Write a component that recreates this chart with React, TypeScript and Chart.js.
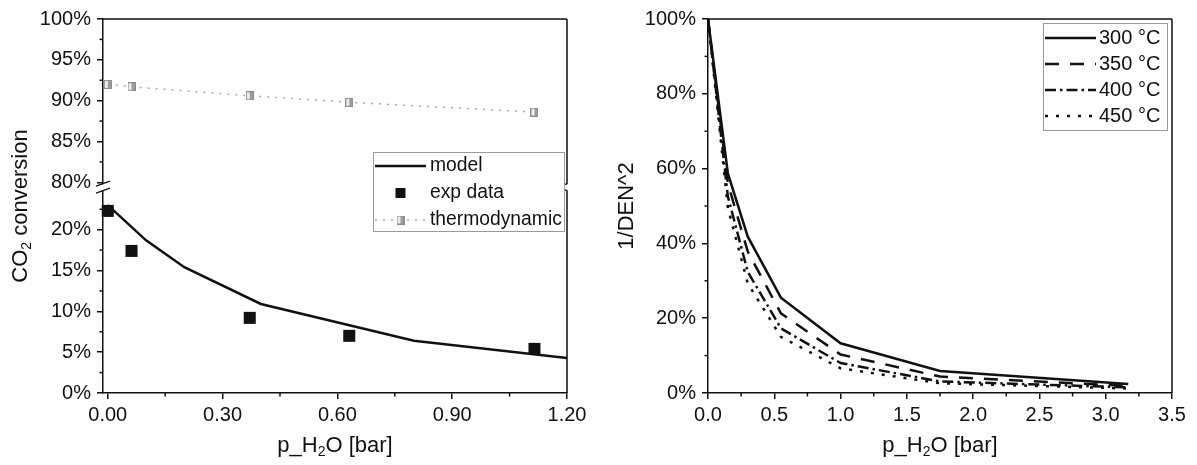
import React, { useEffect, useRef } from 'react';
import { Chart, registerables } from 'chart.js';
Chart.register(...registerables);

const FONT = "'Liberation Sans', Arial, Helvetica, sans-serif";
const INK = '#111';
const GRAY = '#a8a8a8';

// ---------- left panel ----------
const leftXTicks = [0, 0.3, 0.6, 0.9, 1.2];
const leftXMinor = [0.15, 0.45, 0.75, 1.05];
const leftYLowTicks = [0, 5, 10, 15, 20];
const leftYLowMinor = [2.5, 7.5, 12.5, 17.5, 22.5];
const leftYHighTicks = [80, 85, 90, 95, 100];
const leftYHighMinor = [82.5, 87.5, 92.5, 97.5];

const modelP = [0, 0.1, 0.2, 0.4, 0.8, 1.2];
const modelConv = [23.0, 18.7, 15.4, 10.9, 6.4, 4.3];
const expP = [0.0, 0.062, 0.371, 0.631, 1.115];
const expConv = [22.3, 17.4, 9.2, 7.0, 5.4];
const thermoP = [0.0, 0.062, 0.371, 0.631, 1.115];
const thermoConv = [92.0, 91.7, 90.6, 89.8, 88.6];
const leftLabels = ['model', 'exp data', 'thermodynamic'];

// ---------- right panel ----------
const rightXTicks = [0, 0.5, 1, 1.5, 2, 2.5, 3, 3.5];
const rightXMinor = [0.25, 0.75, 1.25, 1.75, 2.25, 2.75, 3.25];
const rightYTicks = [0, 20, 40, 60, 80, 100];
const rightYMinor = [10, 30, 50, 70, 90];
const tempLabels = ['300 °C', '350 °C', '400 °C', '450 °C'];
const pSweep = [0, 0.15, 0.3, 0.55, 1.0, 1.75, 3.17];
const den300 = [100, 58.7, 41.8, 25.5, 13.3, 5.9, 2.4];
const den350 = [100, 56.0, 37.8, 21.3, 10.3, 4.4, 1.9];
const den400 = [100, 52.5, 32.4, 17.3, 8.0, 3.1, 1.5];
const den450 = [100, 49.5, 29.3, 15.0, 6.6, 2.6, 1.2];

// axis titles: [text, isSubscript]
const pTitle: [string, boolean][] = [['p_H', false], ['2', true], ['O [bar]', false]];
const convTitle: [string, boolean][] = [['CO', false], ['2', true], [' conversion', false]];
const denTitle: [string, boolean][] = [['1/DEN^2', false]];

const tickFont = { family: FONT, size: 20 };
const TITLE_SIZE = 22;

function pts(xs: number[], ys: number[]) {
  return xs.map((x, i) => ({ x, y: ys[i] }));
}

function axis(tickVals: number[], fmt: (v: number) => string, extra: any, pad: number) {
  return {
    type: 'linear',
    afterBuildTicks: (s: any) => {
      s.ticks = tickVals.map((v) => ({ value: v }));
    },
    ticks: {
      callback: (v: any) => fmt(Number(v)),
      font: tickFont,
      color: INK,
      padding: pad,
      autoSkip: false,
      maxRotation: 0,
    },
    grid: { drawOnChartArea: false, drawTicks: true, tickLength: 6, color: INK, lineWidth: 1.5 },
    border: { display: true, color: INK, width: 1.5 },
    ...extra,
  };
}

function makeThermoMarker() {
  const c = document.createElement('canvas');
  c.width = 8;
  c.height = 9;
  const g = c.getContext('2d')!;
  g.fillStyle = '#ececec';
  g.fillRect(0, 0, 8, 9);
  g.fillStyle = '#9c9c9c';
  g.fillRect(4, 0, 4, 9);
  g.strokeStyle = '#8c8c8c';
  g.lineWidth = 1;
  g.strokeRect(0.5, 0.5, 7, 8);
  return c;
}

// draws text centred at (0,0) in current transform, with subscript parts
function drawRich(ctx: CanvasRenderingContext2D, parts: [string, boolean][], size: number) {
  const subSize = Math.round(size * 0.65);
  const widths = parts.map(([t, sub]) => {
    ctx.font = `${sub ? subSize : size}px ${FONT}`;
    return ctx.measureText(t).width;
  });
  const total = widths.reduce((a, b) => a + b, 0);
  let x = -total / 2;
  ctx.textAlign = 'left';
  ctx.textBaseline = 'alphabetic';
  const base = size * 0.35;
  parts.forEach(([t, sub], i) => {
    ctx.font = `${sub ? subSize : size}px ${FONT}`;
    ctx.fillText(t, x, base + (sub ? size * 0.2 : 0));
    x += widths[i];
  });
}

function titlesPlugin(xParts: [string, boolean][], yParts: [string, boolean][], yTitleX: number) {
  return {
    id: 'axisTitles',
    afterDraw(chart: any) {
      const { ctx, chartArea: ca } = chart;
      ctx.save();
      ctx.fillStyle = INK;
      ctx.translate((ca.left + ca.right) / 2, 444);
      drawRich(ctx, xParts, TITLE_SIZE);
      ctx.restore();
      ctx.save();
      ctx.fillStyle = INK;
      ctx.translate(yTitleX, (ca.top + ca.bottom) / 2);
      ctx.rotate(-Math.PI / 2);
      drawRich(ctx, yParts, TITLE_SIZE);
      ctx.restore();
    },
  };
}

function minorTicks(spec: { id: string; values: number[] }[]) {
  return {
    id: 'minorTicks',
    afterDraw(chart: any) {
      const ctx = chart.ctx;
      ctx.save();
      ctx.strokeStyle = INK;
      ctx.lineWidth = 1.5;
      for (const s of spec) {
        const sc = chart.scales[s.id];
        for (const v of s.values) {
          const p = sc.getPixelForValue(v);
          ctx.beginPath();
          if (sc.isHorizontal()) {
            ctx.moveTo(p, sc.top);
            ctx.lineTo(p, sc.top + 3.5);
          } else {
            ctx.moveTo(sc.right, p);
            ctx.lineTo(sc.right - 3.5, p);
          }
          ctx.stroke();
        }
      }
      ctx.restore();
    },
  };
}

function frame(withBreak: boolean) {
  return {
    id: 'frame',
    afterDraw(chart: any) {
      const { ctx, chartArea: ca } = chart;
      ctx.save();
      ctx.strokeStyle = INK;
      ctx.lineWidth = 1.5;
      ctx.beginPath();
      ctx.moveTo(ca.left, ca.top);
      ctx.lineTo(ca.right, ca.top);
      if (withBreak) {
        const yb = chart.scales.y.top;
        ctx.moveTo(ca.right, ca.top);
        ctx.lineTo(ca.right, yb - 3);
        ctx.moveTo(ca.right, yb + 3);
        ctx.lineTo(ca.right, ca.bottom);
        ctx.stroke();
        ctx.lineWidth = 1.2;
        ctx.beginPath();
        ctx.moveTo(ca.right - 2.5, yb - 3);
        ctx.lineTo(ca.right, yb - 3);
        ctx.moveTo(ca.right - 2.5, yb + 3);
        ctx.lineTo(ca.right, yb + 3);
        ctx.stroke();
        ctx.fillStyle = '#fff';
        ctx.fillRect(ca.left - 2, yb - 3, 4, 6);
        ctx.strokeStyle = INK;
        ctx.lineWidth = 1.3;
        for (const d of [-3.5, 3.5]) {
          ctx.beginPath();
          ctx.moveTo(ca.left - 7, yb + d + 2.5);
          ctx.lineTo(ca.left + 7, yb + d - 2.5);
          ctx.stroke();
        }
      } else {
        ctx.moveTo(ca.right, ca.top);
        ctx.lineTo(ca.right, ca.bottom);
        ctx.stroke();
      }
      ctx.restore();
    },
  };
}

function leftLegendPlugin(marker: HTMLCanvasElement) {
  return {
    id: 'leftLegend',
    afterDraw(chart: any) {
      const { ctx, chartArea: ca } = chart;
      const w = 191;
      const h = 79;
      const x0 = ca.right - 3 - w;
      const y0 = ca.top + 133;
      ctx.save();
      ctx.fillStyle = '#fff';
      ctx.fillRect(x0, y0, w, h);
      ctx.strokeStyle = '#9a9a9a';
      ctx.lineWidth = 1;
      ctx.strokeRect(x0 + 0.5, y0 + 0.5, w, h);
      const sx0 = x0 + 2;
      const sx1 = x0 + 53;
      const cxm = (sx0 + sx1) / 2;
      const ds = chart.data.datasets;
      ds.forEach((d: any, i: number) => {
        const cy = y0 + 14 + i * 27;
        if (i === 0) {
          ctx.strokeStyle = d.borderColor;
          ctx.lineWidth = d.borderWidth;
          ctx.setLineDash([]);
          ctx.beginPath();
          ctx.moveTo(sx0, cy);
          ctx.lineTo(sx1, cy);
          ctx.stroke();
        } else if (i === 1) {
          ctx.fillStyle = d.backgroundColor;
          ctx.fillRect(cxm - 5, cy - 5, 10, 10);
        } else {
          ctx.strokeStyle = d.borderColor;
          ctx.lineWidth = d.borderWidth;
          ctx.setLineDash(d.borderDash);
          ctx.beginPath();
          ctx.moveTo(sx0, cy);
          ctx.lineTo(sx1, cy);
          ctx.stroke();
          ctx.setLineDash([]);
          ctx.drawImage(marker, cxm - marker.width / 2, cy - marker.height / 2);
        }
        ctx.fillStyle = INK;
        ctx.font = `19.3px ${FONT}`;
        ctx.textAlign = 'left';
        ctx.textBaseline = 'middle';
        ctx.fillText(d.label, x0 + 57, cy);
      });
      ctx.restore();
    },
  };
}

const rightLegendPlugin = {
  id: 'rightLegend',
  afterDraw(chart: any) {
    const { ctx, chartArea: ca } = chart;
    const w = 124;
    const h = 107;
    const x0 = ca.right - 5 - w;
    const y0 = ca.top + 4;
    ctx.save();
    ctx.fillStyle = '#fff';
    ctx.fillRect(x0, y0, w, h);
    ctx.strokeStyle = '#9a9a9a';
    ctx.lineWidth = 1;
    ctx.strokeRect(x0 + 0.5, y0 + 0.5, w, h);
    chart.data.datasets.forEach((d: any, i: number) => {
      const cy = y0 + 15 + i * 26;
      ctx.strokeStyle = d.borderColor;
      ctx.lineWidth = d.borderWidth;
      ctx.setLineDash(d.borderDash || []);
      ctx.beginPath();
      ctx.moveTo(x0 + 2, cy);
      ctx.lineTo(x0 + 53, cy);
      ctx.stroke();
      ctx.setLineDash([]);
      ctx.fillStyle = INK;
      ctx.font = `20px ${FONT}`;
      ctx.textAlign = 'left';
      ctx.textBaseline = 'middle';
      ctx.fillText(d.label, x0 + 56, cy);
    });
    ctx.restore();
  },
};

const pct = (v: number) => `${v}%`;

export default function App() {
  const leftRef = useRef<HTMLCanvasElement>(null);
  const rightRef = useRef<HTMLCanvasElement>(null);

  useEffect(() => {
    Chart.defaults.font.family = FONT;
    const marker = makeThermoMarker();

    const left = new Chart(leftRef.current as HTMLCanvasElement, {
      type: 'scatter',
      data: {
        datasets: [
          {
            label: leftLabels[0],
            data: pts(modelP, modelConv),
            showLine: true,
            borderColor: INK,
            borderWidth: 2.5,
            pointRadius: 0,
            yAxisID: 'y',
          },
          {
            label: leftLabels[1],
            data: pts(expP, expConv),
            showLine: false,
            pointStyle: 'rect',
            pointRadius: 8.5,
            backgroundColor: INK,
            borderColor: INK,
            borderWidth: 0,
            yAxisID: 'y',
            clip: false,
          },
          {
            label: leftLabels[2],
            data: pts(thermoP, thermoConv),
            showLine: true,
            borderColor: GRAY,
            borderWidth: 1.5,
            borderDash: [2, 6],
            pointStyle: marker,
            pointRadius: 4,
            yAxisID: 'yTop',
          },
        ],
      } as any,
      options: {
        responsive: false,
        maintainAspectRatio: false,
        animation: false,
        layout: { padding: { left: 0, top: 19, right: 33, bottom: 0 } },
        plugins: { legend: { display: false }, tooltip: { enabled: false } },
        scales: {
          x: axis(leftXTicks, (v) => v.toFixed(2), {
            min: -0.0125,
            max: 1.2,
            afterFit: (s: any) => {
              s.height = 72;
            },
          }, 4),
          y: axis(leftYLowTicks, pct, {
            position: 'left',
            stack: 'left',
            stackWeight: 25.2,
            min: 0,
            max: 25.2,
            afterFit: (s: any) => {
              s.width = 103;
            },
          }, 6),
          yTop: axis(leftYHighTicks, pct, {
            position: 'left',
            stack: 'left',
            stackWeight: 20.6,
            min: 79.4,
            max: 100,
            afterFit: (s: any) => {
              s.width = 103;
            },
          }, 6),
        } as any,
      },
      plugins: [
        minorTicks([
          { id: 'x', values: leftXMinor },
          { id: 'y', values: leftYLowMinor },
          { id: 'yTop', values: leftYHighMinor },
        ]),
        frame(true),
        titlesPlugin(pTitle, convTitle, 19),
        leftLegendPlugin(marker),
      ],
    } as any);

    const dashes = [[], [14, 11], [11, 4, 2.5, 4], [3, 8]];
    const series = [den300, den350, den400, den450];
    const right = new Chart(rightRef.current as HTMLCanvasElement, {
      type: 'scatter',
      data: {
        datasets: series.map((s, i) => ({
          label: tempLabels[i],
          data: pts(pSweep, s),
          showLine: true,
          borderColor: INK,
          borderWidth: 2.5,
          borderDash: dashes[i],
          pointRadius: 0,
        })),
      } as any,
      options: {
        responsive: false,
        maintainAspectRatio: false,
        animation: false,
        layout: { padding: { left: 0, top: 19, right: 25, bottom: 0 } },
        plugins: { legend: { display: false }, tooltip: { enabled: false } },
        scales: {
          x: axis(rightXTicks, (v) => v.toFixed(1), {
            min: 0,
            max: 3.5,
            afterFit: (s: any) => {
              s.height = 72;
            },
          }, 4),
          y: axis(rightYTicks, pct, {
            position: 'left',
            min: 0,
            max: 100,
            afterFit: (s: any) => {
              s.width = 108;
            },
          }, 6),
        } as any,
      },
      plugins: [
        minorTicks([
          { id: 'x', values: rightXMinor },
          { id: 'y', values: rightYMinor },
        ]),
        frame(false),
        titlesPlugin(pTitle, denTitle, 25.5),
        rightLegendPlugin,
      ],
    } as any);

    return () => {
      left.destroy();
      right.destroy();
    };
  }, []);

  return (
    <div style={{ position: 'absolute', left: 0, top: 0, width: 1197, height: 465, background: '#fff' }}>
      <canvas ref={leftRef} width={600} height={465} style={{ position: 'absolute', left: 0, top: 0 }} />
      <canvas ref={rightRef} width={597} height={465} style={{ position: 'absolute', left: 600, top: 0 }} />
    </div>
  );
}
